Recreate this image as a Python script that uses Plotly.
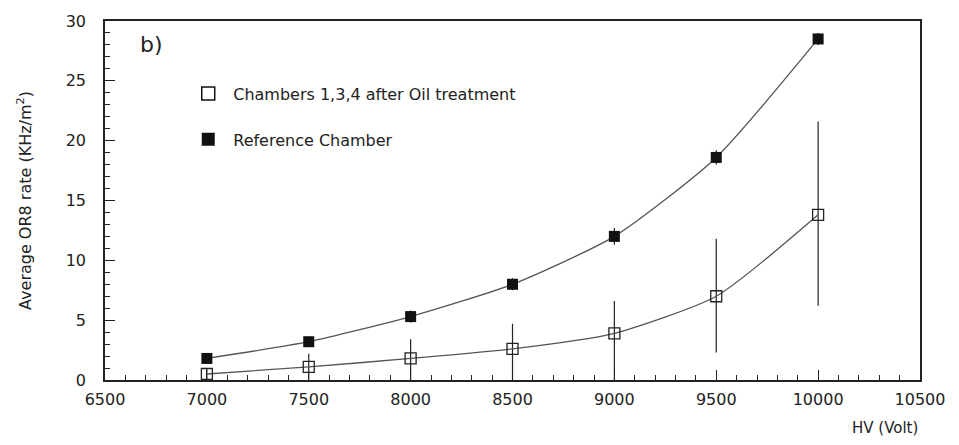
import plotly.graph_objects as go

hv = [7000, 7500, 8000, 8500, 9000, 9500, 10000]
ref_rate = [1.8, 3.2, 5.3, 8.0, 12.0, 18.6, 28.5]
ref_err = [0.4, 0.4, 0.5, 0.5, 0.7, 0.6, 0.5]
oil_rate = [0.5, 1.1, 1.8, 2.6, 3.9, 7.0, 13.8]
oil_err_plus = [0.5, 1.1, 1.6, 2.1, 2.7, 4.8, 7.8]
oil_err_minus = [0.5, 1.1, 1.8, 2.6, 3.9, 4.7, 7.6]

legend_labels = ["Chambers 1,3,4 after Oil treatment", "Reference Chamber"]

font_family = "DejaVu Sans, Liberation Sans, sans-serif"
line_col = "#555555"

fig = go.Figure()

fig.add_trace(go.Scatter(
    x=hv, y=oil_rate, mode="lines+markers", showlegend=False,
    line=dict(color=line_col, width=1.3, shape="spline", smoothing=0.6),
    marker=dict(symbol="square-open", size=11, color="#222", line=dict(width=1.3)),
    error_y=dict(type="data", symmetric=False, array=oil_err_plus,
                 arrayminus=oil_err_minus, color="#222", thickness=1.2, width=0),
))
fig.add_trace(go.Scatter(
    x=hv, y=ref_rate, mode="lines+markers", showlegend=False,
    line=dict(color=line_col, width=1.3, shape="spline", smoothing=0.6),
    marker=dict(symbol="square", size=11, color="#111"),
    error_y=dict(type="data", array=ref_err, color="#222", thickness=1.2, width=0),
))

# legend-only entries
fig.add_trace(go.Scatter(
    x=[None], y=[None], mode="markers", name=legend_labels[0],
    marker=dict(symbol="square-open", size=13, color="#111", line=dict(width=1.5)),
    legendgroup="a",
))
fig.add_trace(go.Scatter(
    x=[None], y=[None], mode="markers", name=legend_labels[1],
    marker=dict(symbol="square", size=13, color="#111"),
    legendgroup="b",
))

axis_common = dict(
    showgrid=False, zeroline=False, showline=True, linecolor="#222", linewidth=1.5,
    mirror=True, ticks="inside", ticklen=10, tickwidth=1.2, tickcolor="#222",
    tickfont=dict(family=font_family, size=16, color="#222"),
)

fig.update_xaxes(
    range=[6500, 10500], dtick=500, tick0=6500, tickformat="d", ticklabelstandoff=4,
    minor=dict(ticks="inside", ticklen=5, dtick=100, tickcolor="#222", tickwidth=1),
    **axis_common,
)
fig.update_yaxes(
    range=[0, 30], dtick=5, tick0=0, ticklabelstandoff=14,
    minor=dict(ticks="inside", ticklen=5, dtick=1, tickcolor="#222", tickwidth=1),
    title=dict(text="Average OR8 rate (KHz/m<sup>2</sup>)",
               font=dict(family=font_family, size=16, color="#222"), standoff=30),
    **axis_common,
)

fig.add_annotation(
    x=1.0, y=-0.133, xref="paper", yref="paper", text="HV (Volt)", showarrow=False,
    xanchor="right", yanchor="middle",
    font=dict(family=font_family, size=15, color="#222"),
)
fig.add_annotation(
    x=0.04, y=0.975, xref="paper", yref="paper", text="b)", showarrow=False,
    xanchor="left", yanchor="top",
    font=dict(family=font_family, size=22, color="#222"),
)

fig.update_layout(
    width=959, height=445,
    margin=dict(l=105, r=39, t=18, b=65),
    paper_bgcolor="white", plot_bgcolor="white",
    legend=dict(x=0.096, y=0.845, xanchor="left", yanchor="top", itemwidth=40,
                bgcolor="rgba(0,0,0,0)", tracegroupgap=22,
                font=dict(family=font_family, size=16, color="#222")),
)

fig.write_html("out.html")
